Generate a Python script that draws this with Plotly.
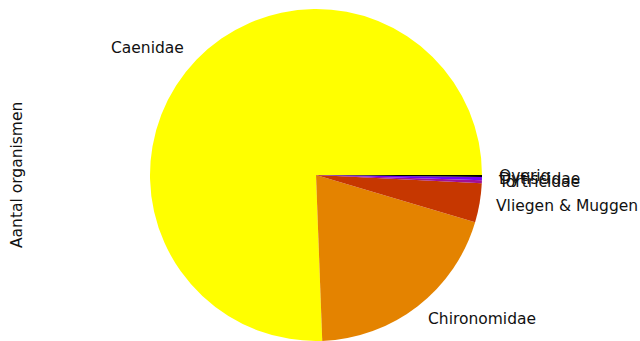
import numpy as np
import plotly.graph_objects as go

# Aantal organismen per groep
labels = ["Caenidae", "Chironomidae", "Vliegen & Muggen", "Tortricidae", "Dytiscidae", "Overig"]
counts = [756, 198, 38, 3, 3, 2]
colors = ["#ffff00", "#e48300", "#c63700", "#a11096", "#7202f3", "#000000"]

W, H = 640, 341
cx, cy, r = 316, 166, 166  # pie centre / radius in px (cy from bottom)

frac = np.array(counts) / sum(counts)

# matplotlib style: first wedge starts at 3 o'clock and goes counterclockwise.
# plotly (ccw) puts the end of the first slice at `rotation` (clockwise from 12)
rotation = 90 - 360 * frac[0]

fig = go.Figure(
    go.Pie(
        labels=labels,
        values=counts,
        sort=False,
        direction="counterclockwise",
        rotation=rotation,
        marker=dict(colors=colors, line=dict(width=0)),
        textinfo="none",
        hoverinfo="label+value",
        showlegend=False,
        domain=dict(x=[(cx - r) / W, (cx + r) / W], y=[(cy - r) / H, (cy + r) / H]),
    )
)

# labels like matplotlib: at 1.1 * radius, at the middle angle of each wedge
mid = (np.cumsum(frac) - frac / 2) * 2 * np.pi
annotations = []
for lab, a in zip(labels, mid):
    x = cx + 1.1 * r * np.cos(a)
    y = cy + 1.1 * r * np.sin(a)
    annotations.append(
        dict(
            text=lab,
            x=x / W,
            y=y / H,
            xref="paper",
            yref="paper",
            xanchor="left" if np.cos(a) > 0 else "right",
            yanchor="middle",
            borderpad=0,
            borderwidth=0,
            showarrow=False,
        )
    )

annotations.append(
    dict(
        text="Aantal organismen",
        x=17 / W,
        y=cy / H,
        xref="paper",
        yref="paper",
        textangle=-90,
        showarrow=False,
        xanchor="center",
        yanchor="middle",
    )
)

fig.update_layout(
    annotations=annotations,
    width=W,
    height=H,
    margin=dict(l=0, r=0, t=0, b=0),
    paper_bgcolor="white",
    plot_bgcolor="white",
    font=dict(family="DejaVu Sans", size=15.5, color="#111111"),
)

fig.write_html(
    "out.html",
    config={"displayModeBar": False},
    post_script="document.body.style.margin='0';",
)
